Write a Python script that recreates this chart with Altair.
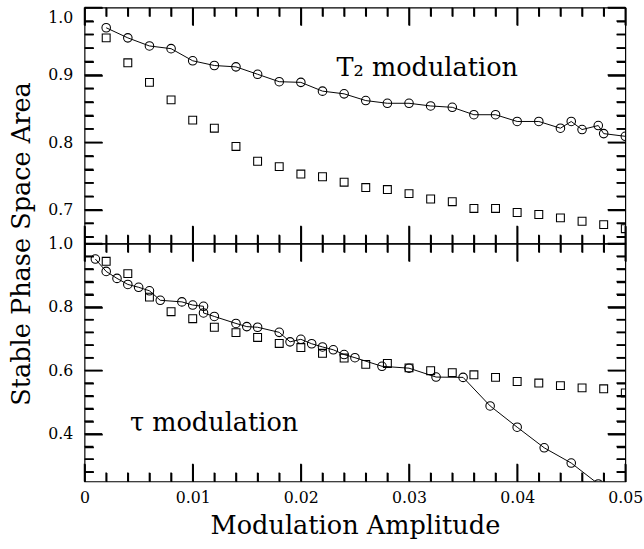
import altair as alt
import pandas as pd

# ---------------- data ----------------
# Top panel: T2 modulation
t2_circle_x = [0.002, 0.004, 0.006, 0.008, 0.010, 0.012, 0.014, 0.016, 0.018, 0.020,
               0.022, 0.024, 0.026, 0.028, 0.030, 0.032, 0.034, 0.036, 0.038, 0.040,
               0.042, 0.044, 0.045, 0.046, 0.0475, 0.048, 0.050]
t2_circle_y = [0.970, 0.955, 0.943, 0.939, 0.921, 0.914, 0.912, 0.901, 0.890, 0.889,
               0.876, 0.872, 0.862, 0.858, 0.858, 0.854, 0.852, 0.841, 0.841, 0.831,
               0.831, 0.821, 0.831, 0.819, 0.825, 0.813, 0.809]
t2_square_x = [0.002, 0.004, 0.006, 0.008, 0.010, 0.012, 0.014, 0.016, 0.018, 0.020,
               0.022, 0.024, 0.026, 0.028, 0.030, 0.032, 0.034, 0.036, 0.038, 0.040,
               0.042, 0.044, 0.046, 0.048, 0.050]
t2_square_y = [0.955, 0.918, 0.889, 0.863, 0.833, 0.821, 0.794, 0.772, 0.764, 0.753,
               0.749, 0.741, 0.733, 0.730, 0.724, 0.716, 0.712, 0.702, 0.702, 0.696,
               0.693, 0.688, 0.683, 0.678, 0.672]

# Bottom panel: tau modulation
tau_circle_x = [0.001, 0.002, 0.003, 0.004, 0.005, 0.006, 0.007, 0.009, 0.010, 0.011,
                0.011, 0.012, 0.014, 0.015, 0.016, 0.018, 0.019, 0.020, 0.021, 0.022,
                0.023, 0.024, 0.025, 0.0275, 0.030, 0.0325, 0.035, 0.0375, 0.040, 0.0425,
                0.045, 0.0475]
tau_circle_y = [0.951, 0.912, 0.890, 0.871, 0.862, 0.851, 0.821, 0.816, 0.806, 0.802,
                0.781, 0.770, 0.748, 0.738, 0.736, 0.720, 0.690, 0.698, 0.684, 0.674,
                0.665, 0.650, 0.640, 0.613, 0.607, 0.579, 0.578, 0.488, 0.421, 0.356,
                0.308, 0.242]
tau_square_x = [0.002, 0.004, 0.006, 0.008, 0.010, 0.012, 0.014, 0.016, 0.018, 0.020,
                0.022, 0.024, 0.026, 0.028, 0.030, 0.032, 0.034, 0.036, 0.038, 0.040,
                0.042, 0.044, 0.046, 0.048, 0.050]
tau_square_y = [0.944, 0.905, 0.831, 0.785, 0.763, 0.736, 0.719, 0.704, 0.685, 0.672,
                0.654, 0.639, 0.619, 0.622, 0.608, 0.599, 0.593, 0.586, 0.578, 0.565,
                0.560, 0.552, 0.545, 0.542, 0.529]

# annotations
top_label = ["T\u2082 modulation"]
top_label_x = [0.0233]
top_label_y = [0.898]
bot_label = ["\u03c4 modulation"]
bot_label_x = [0.0042]
bot_label_y = [0.41]

# axis ticks
x_major = [0.0, 0.01, 0.02, 0.03, 0.04, 0.05]
x_minor = [0.002, 0.004, 0.006, 0.008, 0.012, 0.014, 0.016, 0.018, 0.022, 0.024,
           0.026, 0.028, 0.032, 0.034, 0.036, 0.038, 0.042, 0.044, 0.046, 0.048]
top_y_major = [0.7, 0.8, 0.9, 1.0]
top_y_minor = [0.66, 0.68, 0.72, 0.74, 0.76, 0.78, 0.82, 0.84, 0.86, 0.88, 0.92, 0.94, 0.96, 0.98]
bot_y_major = [0.4, 0.6, 0.8, 1.0]
bot_y_minor = [0.28, 0.32, 0.36, 0.44, 0.48, 0.52, 0.56, 0.64, 0.68, 0.72, 0.76, 0.84, 0.88, 0.92, 0.96]

# ---------------- layout / style ----------------
W = 550
H_TOP = 240
H_BOT = 242
MAJ = 18
MIN = 9
TW = 1.6
FONT = "DejaVu Serif"
XDOM = [0, 0.05]

xscale = alt.Scale(domain=XDOM, nice=False, zero=False)


def arr(vals):
    return "[" + ",".join(repr(float(v)) for v in vals) + "]"


def inward_ticks(major, length):
    """Grid lines dashed so that only a short piece remains at both edges."""
    return dict(
        grid=True, gridColor="black", gridOpacity=1, gridWidth=TW,
        gridDash={
            "condition": {"test": "indexof(%s, datum.value) >= 0" % arr(major),
                          "value": [MAJ, length - 2 * MAJ, MAJ, 3000]},
            "value": [MIN, length - 2 * MIN, MIN, 3000],
        },
        ticks=False, domain=False, labelOverlap=False,
    )


def panel(cx, cy, sx, sy, lab, lx, ly, ydom, ymaj, ymin, H, bottom):
    yscale = alt.Scale(domain=ydom, nice=False, zero=False)
    xvals = sorted(x_major + x_minor)
    yvals = sorted(ymaj + ymin)
    ylabel_expr = "indexof(%s, datum.value) >= 0 ? format(datum.value, '.1f') : ''" % arr(ymaj)
    if bottom:
        xaxis = alt.Axis(values=xvals,
                         labelExpr="indexof(%s, datum.value) < 0 ? '' : "
                                   "(datum.value == 0 ? '0' : format(datum.value, '.2f'))" % arr(x_major),
                         labelFlush=False, labelPadding=8, labelFontSize=16,
                         title="Modulation Amplitude", titleFontSize=26,
                         titleY=53, titleBaseline="alphabetic",
                         **inward_ticks(x_major, H))
        yaxis = alt.Axis(values=yvals, labelExpr=ylabel_expr, labelPadding=12, labelFontSize=16,
                         title="Stable Phase Space Area", titleFontSize=26,
                         titleX=-56, titleY=0, titleBaseline="alphabetic", titleAlign="center",
                         **inward_ticks(ymaj, W))
    else:
        xaxis = alt.Axis(values=xvals, labels=False, title=None, **inward_ticks(x_major, H))
        yaxis = alt.Axis(values=yvals, labelExpr=ylabel_expr, labelPadding=12, labelFontSize=16,
                         labelFlush=1, labelFlushOffset=-2, title=None,
                         **inward_ticks(ymaj, W))

    X = lambda f: alt.X(f + ":Q", scale=xscale, axis=xaxis)
    Y = lambda f: alt.Y(f + ":Q", scale=yscale, axis=yaxis)

    circ = pd.DataFrame({"x": cx, "y": cy, "i": list(range(len(cx)))})
    sq = pd.DataFrame({"x": sx, "y": sy})
    ann = pd.DataFrame({"label": lab, "x": lx, "y": ly})

    line = alt.Chart(circ).mark_line(color="black", strokeWidth=1, clip=True).encode(
        x=X("x"), y=Y("y"), order="i:Q")
    circles = alt.Chart(circ).mark_point(shape="circle", size=75, color="black",
                                          filled=False, strokeWidth=1.1, opacity=1,
                                          clip=True).encode(x=X("x"), y=Y("y"))
    squares = alt.Chart(sq).mark_point(shape="square", size=64, color="black",
                                        filled=False, strokeWidth=1.1, opacity=1,
                                        clip=True).encode(x=X("x"), y=Y("y"))
    text = alt.Chart(ann).mark_text(font=FONT, fontSize=26, align="left",
                                    baseline="alphabetic", color="black").encode(
        x=X("x"), y=Y("y"), text="label:N")

    # tick marks as rule layers as well (tick length in pixels turned into data units)
    yspan = ydom[1] - ydom[0]
    xspan = XDOM[1] - XDOM[0]
    tick_rows = []
    for v in x_major + x_minor:
        L = MAJ if v in x_major else MIN
        d = L / H * yspan
        tick_rows.append({"x1": v, "x2": v, "y1": ydom[0], "y2": ydom[0] + d})
        tick_rows.append({"x1": v, "x2": v, "y1": ydom[1] - d, "y2": ydom[1]})
    for v in ymaj + ymin:
        L = MAJ if v in ymaj else MIN
        d = L / W * xspan
        tick_rows.append({"x1": XDOM[0], "x2": XDOM[0] + d, "y1": v, "y2": v})
        tick_rows.append({"x1": XDOM[1] - d, "x2": XDOM[1], "y1": v, "y2": v})
    tick_layer = alt.Chart(alt.Data(values=tick_rows)).mark_rule(
        color="black", strokeWidth=TW, opacity=1
    ).encode(x=X("x1"), x2="x2:Q", y=Y("y1"), y2="y2:Q")

    return alt.layer(tick_layer, line, circles, squares, text).properties(width=W, height=H)


top = panel(t2_circle_x, t2_circle_y, t2_square_x, t2_square_y,
            top_label, top_label_x, top_label_y, [0.65, 1.0],
            top_y_major, top_y_minor, H_TOP, False)
bot = panel(tau_circle_x, tau_circle_y, tau_square_x, tau_square_y,
            bot_label, bot_label_x, bot_label_y, [0.25, 1.0],
            bot_y_major, bot_y_minor, H_BOT, True)

chart = alt.vconcat(top, bot, spacing=0, bounds="flush").properties(
    padding={"left": 8, "top": 1, "right": 0, "bottom": 2},
    background="white",
).configure_view(stroke="black", strokeWidth=1.2).configure_axis(
    labelFont=FONT, labelColor="black", titleFont=FONT, titleColor="black",
    titleFontWeight="normal",
)

chart.save("out.html", embed_options={"renderer": "svg", "actions": False})
